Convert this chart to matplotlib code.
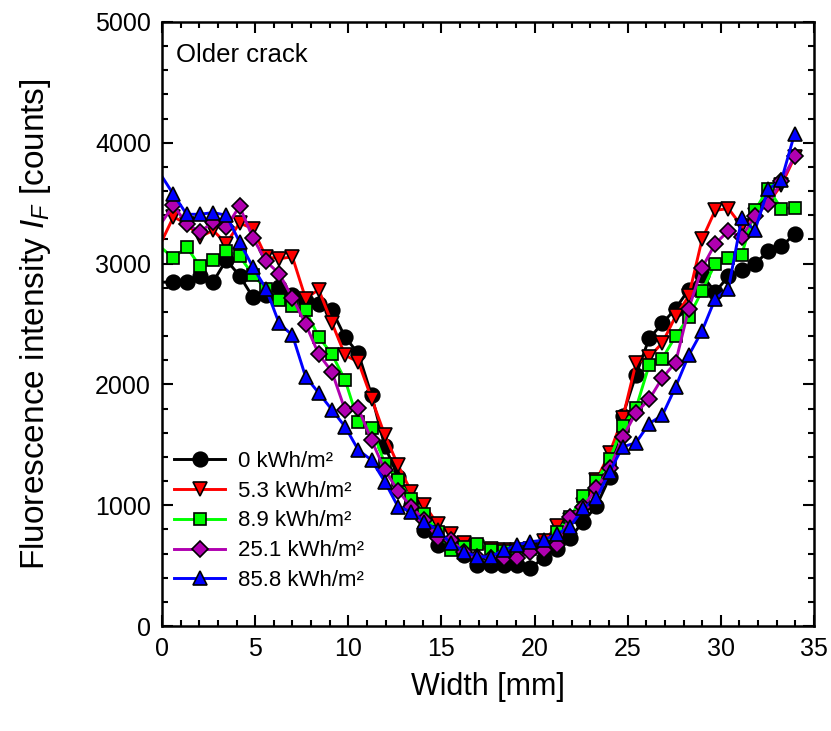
import matplotlib
matplotlib.use("Agg")
import matplotlib.pyplot as plt
from matplotlib.ticker import MultipleLocator

plt.rcParams['font.family'] = ['Liberation Sans', 'DejaVu Sans']
plt.rcParams['mathtext.fontset'] = 'custom'
plt.rcParams['mathtext.rm'] = 'Liberation Sans'
plt.rcParams['mathtext.it'] = 'Liberation Sans:italic'

# positions (mm)
width = [0.61, 1.32, 2.03, 2.74, 3.45, 4.16, 4.87, 5.58, 6.29, 7.00, 7.71, 8.41,
         9.12, 9.83, 10.54, 11.25, 11.96, 12.67, 13.38, 14.09, 14.80, 15.51, 16.22, 16.93,
         17.64, 18.35, 19.06, 19.77, 20.48, 21.19, 21.90, 22.61, 23.32, 24.03, 24.73, 25.44,
         26.15, 26.86, 27.57, 28.28, 28.99, 29.70, 30.41, 31.12, 31.83, 32.54, 33.25, 33.96]

labels = ["0 kWh/m²", "5.3 kWh/m²", "8.9 kWh/m²", "25.1 kWh/m²", "85.8 kWh/m²"]

s_0 = [2846, 2846, 2900, 2848, 3030, 2900, 2724, 2738, 2806, 2740, 2690, 2669,
       2614, 2390, 2256, 1910, 1489, 1235, 1000, 794, 670, 656, 587, 504,
       504, 504, 504, 477, 565, 635, 730, 863, 993, 1230, 1740, 2076,
       2380, 2504, 2628, 2785, 2903, 2765, 2895, 2944, 2994, 3104, 3143, 3242]
s_53 = [3386, 3330, 3220, 3275, 3165, 3336, 3289, 3055, 3041, 3055, 2710, 2785,
        2509, 2241, 2186, 1883, 1580, 1332, 1111, 1001, 842, 760, 690, 650,
        640, 630, 630, 640, 700, 824, 880, 1000, 1208, 1433, 1720, 2173,
        2227, 2343, 2564, 2732, 3200, 3441, 3455, 3310, 3400, 3500, 3650, 3880]
s_89 = [3046, 3138, 2978, 3033, 3104, 3060, 2909, 2790, 2702, 2647, 2614, 2393,
        2250, 2035, 1690, 1635, 1345, 1208, 1050, 930, 780, 629, 650, 680,
        629, 620, 620, 640, 650, 780, 900, 1075, 1200, 1379, 1654, 1801,
        2159, 2214, 2399, 2558, 2773, 3000, 3050, 3074, 3441, 3620, 3455, 3463]
s_251 = [3482, 3331, 3261, 3344, 3303, 3474, 3215, 3019, 2917, 2717, 2498, 2250,
         2104, 1787, 1801, 1538, 1290, 1119, 987, 877, 725, 711, 615, 573,
         560, 560, 560, 615, 629, 670, 904, 987, 1139, 1304, 1561, 1765,
         1875, 2054, 2181, 2628, 2964, 3165, 3270, 3220, 3394, 3496, 3681, 3888]
s_858 = [3573, 3408, 3408, 3422, 3400, 3179, 2972, 2793, 2504, 2407, 2062, 1930,
         1790, 1649, 1456, 1373, 1194, 987, 945, 863, 794, 684, 615, 573,
         573, 629, 670, 697, 711, 760, 821, 973, 1056, 1276, 1483, 1516,
         1676, 1744, 1979, 2241, 2442, 2710, 2793, 3375, 3275, 3615, 3689, 4075]
# curve values at the left edge (x = 0), no marker there
edge = [2846, 3190, 3126, 3344, 3720]

series = [s_0, s_53, s_89, s_251, s_858]
colors = ['#000000', '#ff0000', '#00ff00', '#b000b0', '#0000ff']
markers = ['o', 'v', 's', 'D', '^']
msizes = [10.5, 10.5, 8.5, 8.5, 10.5]

fig = plt.figure(figsize=(8.31, 7.31), dpi=100)
ax = fig.add_axes([0.195, 0.1436, 0.7845, 0.8264])

for s, e, c, m, ms, lab in zip(series, edge, colors, markers, msizes, labels):
    ax.plot([0.0] + width, [e] + s, color=c, lw=2.1, marker=m, ms=ms,
            mfc=c, mec='black', mew=1.2, markevery=list(range(1, len(s) + 1)),
            label=lab)

ax.set_xlim(0, 35)
ax.set_ylim(0, 5000)
ax.xaxis.set_major_locator(MultipleLocator(5))
ax.xaxis.set_minor_locator(MultipleLocator(1))
ax.yaxis.set_major_locator(MultipleLocator(1000))
ax.yaxis.set_minor_locator(MultipleLocator(200))
ax.tick_params(which='both', direction='in', top=True, right=True, width=1.5,
               labelsize=18, pad=8)
ax.tick_params(which='major', length=8)
ax.tick_params(which='minor', length=4.5)
for sp in ax.spines.values():
    sp.set_linewidth(1.8)

ax.set_xlabel('Width [mm]', fontsize=22, labelpad=8)
ax.set_ylabel(r'Fluorescence intensity $I_F$ [counts]', fontsize=24, labelpad=30)
ax.text(0.022, 0.965, 'Older crack', transform=ax.transAxes, fontsize=18.5,
        ha='left', va='top')

leg = ax.legend(loc='upper left', bbox_to_anchor=(0.005, 0.305), frameon=False,
                fontsize=16, handlelength=2.3, handletextpad=0.55,
                labelspacing=0.40, numpoints=1, borderaxespad=0)

fig.savefig('out.png', dpi=100)
